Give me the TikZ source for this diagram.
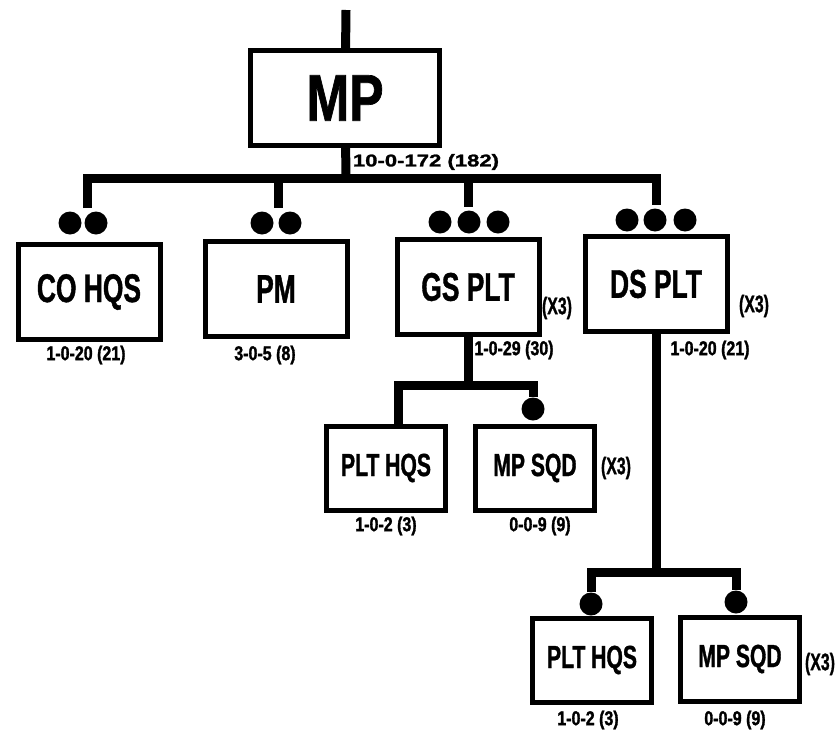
\documentclass[tikz,border=0pt]{standalone}
\usepackage{fontspec}
\setmainfont{Liberation Sans}
\newfontfamily\namefont{Liberation Sans}[FakeStretch=0.66,FakeBold=1]
\newfontfamily\topfont{Liberation Sans}[FakeStretch=0.78,FakeBold=1]
\newfontfamily\numfont{Liberation Sans}[FakeStretch=0.8,FakeBold=1.5]
\newfontfamily\widefont{Liberation Sans}[FakeStretch=1.3,FakeBold=1.5]

\begin{document}
\begin{tikzpicture}[x=1pt,y=-1pt,
  unit/.style={draw,line width=5pt,inner sep=0pt,minimum width=142pt,minimum height=95pt,font=\namefont\bfseries\fontsize{40}{40}\selectfont},
  sub/.style={unit,minimum width=119pt,minimum height=84pt,font=\namefont\bfseries\fontsize{32}{32}\selectfont},
  hq/.style={unit,minimum width=189pt,font=\topfont\bfseries\fontsize{66}{66}\selectfont},
  dot/.style={circle,fill,inner sep=0pt,minimum size=23pt},
  bar/.style={line width=9pt},
  strength/.style={inner sep=0pt,font=\numfont\bfseries\fontsize{20}{20}\selectfont},
  times/.style={inner sep=0pt,font=\namefont\bfseries\fontsize{24}{24}\selectfont}]
\useasboundingbox (0,0) rectangle (838,731);
\node (mp) at (345,98) [hq] {MP};
\node (co) at (89,292) [unit] {CO HQS};
\node (pm) at (276,289) [unit] {PM};
\node (gs) at (468,287) [unit] {GS PLT};
\node (ds) at (656,284) [unit] {DS PLT};
\node (gshq) at (386,468) [sub] {PLT HQS};
\node (gssqd) at (535,468) [sub] {MP SQD};
\node (dshq) at (592,660) [sub] {PLT HQS};
\node (dssqd) at (740,659) [sub] {MP SQD};
\node (co1) at (70,223) [dot] {};
\node (co2) at (96,223) [dot] {};
\node (pm1) at (262,223) [dot] {};
\node (pm2) at (290,223) [dot] {};
\node (gs1) at (440,222) [dot] {};
\node (gs2) at (469,222) [dot] {};
\node (gs3) at (498,222) [dot] {};
\node (ds1) at (627,220) [dot] {};
\node (ds2) at (655,220) [dot] {};
\node (ds3) at (685,220) [dot] {};
\node (gsd) at (533,409) [dot] {};
\node (dsd1) at (591,604) [dot] {};
\node (dsd2) at (736,602) [dot] {};
\coordinate (in) at (346,10);
\coordinate (bus) at (346,178);
\coordinate (coin) at (87,208);
\coordinate (pmin) at (278,208);
\coordinate (gsin) at (468,207);
\coordinate (dsin) at (656,205);
\coordinate (gsbus) at (468,385);
\coordinate (gsl) at (398,426);
\coordinate (dsbus) at (656,572);
\draw[bar] (in) -- (mp);
\draw[bar] (mp) -- (bus);
\draw[bar] (coin) |- (bus) -| (dsin);
\draw[bar] (bus) -| (pmin) (bus) -| (gsin);
\draw[bar] (gs) -- (gsbus);
\draw[bar] (gsl) |- (gsbus) -| (gsd.north);
\draw[bar] (ds) -- (dsbus);
\draw[bar] (dsd1.north) |- (dsbus) -| (dsd2.north);
\node (mpstr) at (426,162) [inner sep=0pt,font=\widefont\bfseries\fontsize{17}{17}\selectfont] {10-0-172 (182)};
\node (costr) at (86,355) [strength] {1-0-20 (21)};
\node (pmstr) at (265,355) [strength] {3-0-5 (8)};
\node (gsstr) at (514,350) [strength] {1-0-29 (30)};
\node (dsstr) at (710,350) [strength] {1-0-20 (21)};
\node (gsx) at (557,308) [times] {(X3)};
\node (dsx) at (754,306) [times] {(X3)};
\node (gshqstr) at (386,526) [strength] {1-0-2 (3)};
\node (gssqdstr) at (540,526) [strength] {0-0-9 (9)};
\node (gssqdx) at (616,468) [times] {(X3)};
\node (dshqstr) at (588,720) [strength] {1-0-2 (3)};
\node (dssqdstr) at (735,720) [strength] {0-0-9 (9)};
\node (dssqdx) at (820,664) [times] {(X3)};
\end{tikzpicture}
\end{document}
